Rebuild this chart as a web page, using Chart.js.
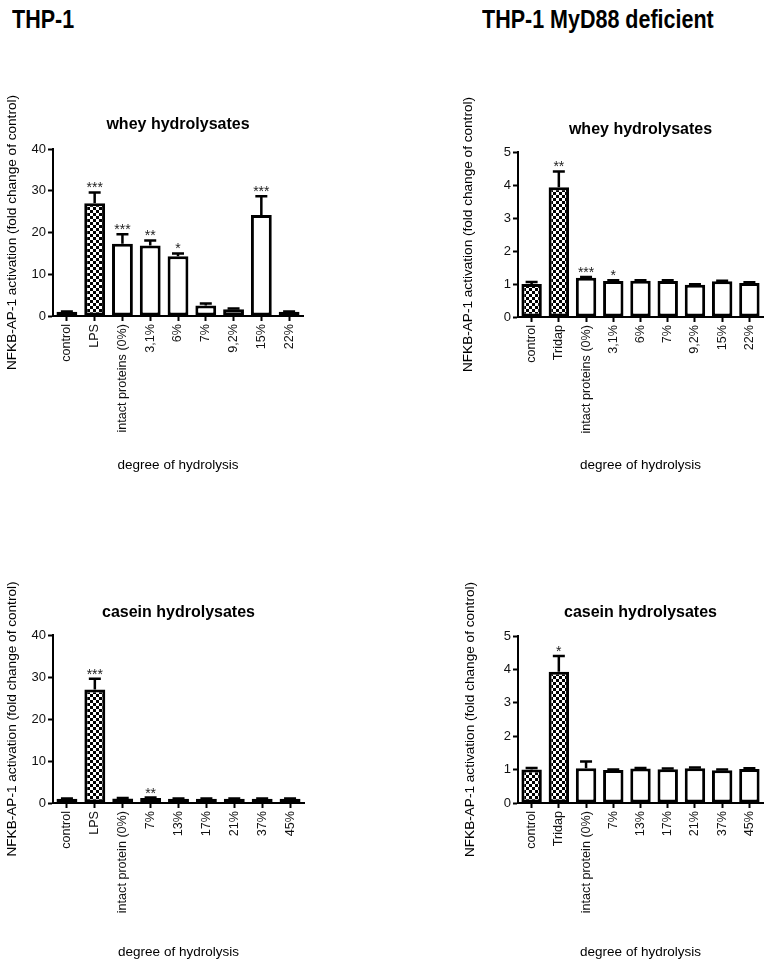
<!DOCTYPE html>
<html>
<head>
<meta charset="utf-8">
<script src="https://cdn.jsdelivr.net/npm/chart.js@4.4.0/dist/chart.umd.min.js"></script>
<style>
  body { margin: 0; background: #fff; width: 771px; height: 960px; position: relative; overflow: hidden; }
  .head { position: absolute; font-family: 'Liberation Sans', Arial, sans-serif;
          font-weight: bold; font-size: 25px; line-height: 1; color: #000; white-space: nowrap;
          transform: scaleX(0.86); transform-origin: left top; }
  canvas { position: absolute; }
</style>
</head>
<body>
<div class="head" style="left:12px; top:7px;">THP-1</div>
<div class="head" style="left:482px; top:7px;">THP-1 MyD88 deficient</div>
<canvas id="tl"></canvas>
<canvas id="tr"></canvas>
<canvas id="bl"></canvas>
<canvas id="br"></canvas>
<script>
'use strict';

// --- data ---
const wheyLabelsThp1 = ['control', 'LPS', 'intact proteins (0%)', '3,1%', '6%', '7%', '9,2%', '15%', '22%'];
const wheyMeansThp1 = [1.0, 27.0, 17.3, 16.9, 14.3, 2.5, 1.6, 24.2, 1.0];
const wheyErrThp1 = [0.1, 2.6, 2.3, 1.2, 0.7, 0.5, 0.2, 4.5, 0.1];
const wheyStarsThp1 = ['', '***', '***', '**', '*', '', '', '***', ''];

const wheyLabelsMyd = ['control', 'Tridap', 'intact proteins (0%)', '3,1%', '6%', '7%', '9,2%', '15%', '22%'];
const wheyMeansMyd = [1.0, 3.93, 1.19, 1.09, 1.10, 1.09, 0.98, 1.08, 1.03];
const wheyErrMyd = [0.06, 0.48, 0.02, 0.02, 0.01, 0.02, 0.01, 0.02, 0.02];
const wheyStarsMyd = ['', '**', '***', '*', '', '', '', '', ''];

const caseinLabelsThp1 = ['control', 'LPS', 'intact protein (0%)', '7%', '13%', '17%', '21%', '37%', '45%'];
const caseinMeansThp1 = [1.0, 27.0, 1.1, 1.2, 1.0, 1.0, 1.0, 1.0, 1.0];
const caseinErrThp1 = [0.1, 2.6, 0.1, 0.1, 0.05, 0.05, 0.05, 0.1, 0.05];
const caseinStarsThp1 = ['', '***', '', '**', '', '', '', '', ''];

const caseinLabelsMyd = ['control', 'Tridap', 'intact protein (0%)', '7%', '13%', '17%', '21%', '37%', '45%'];
const caseinMeansMyd = [1.0, 3.93, 1.04, 0.99, 1.03, 1.01, 1.04, 0.98, 1.02];
const caseinErrMyd = [0.05, 0.47, 0.2, 0.01, 0.02, 0.02, 0.02, 0.02, 0.02];
const caseinStarsMyd = ['', '*', '', '', '', '', '', '', ''];

const FONT = "'Liberation Sans', Arial, sans-serif";
const Y_TITLE = 'NFKB-AP-1 activation (fold change of control)';

// checkered fill for control / stimulus bars
function checker(ctx) {
  const p = document.createElement('canvas');
  p.width = 6; p.height = 6;
  const g = p.getContext('2d');
  g.fillStyle = '#fff'; g.fillRect(0, 0, 6, 6);
  g.fillStyle = '#000'; g.fillRect(0, 0, 3, 3); g.fillRect(3, 3, 3, 3);
  return ctx.createPattern(p, 'repeat');
}

// upper error bars + significance stars
const errorBars = {
  id: 'errorBars',
  afterDatasetsDraw(chart, args, opts) {
    const { ctx } = chart;
    const y = chart.scales.y;
    const meta = chart.getDatasetMeta(0);
    ctx.save();
    ctx.strokeStyle = '#000';
    ctx.lineWidth = 2.5;
    ctx.fillStyle = '#222';
    ctx.font = '14px ' + FONT;
    ctx.textAlign = 'center';
    ctx.textBaseline = 'alphabetic';
    opts.means.forEach((m, i) => {
      const cx = meta.data[i].x;
      const top = y.getPixelForValue(m);
      const hi = y.getPixelForValue(m + opts.errors[i]);
      ctx.beginPath();
      ctx.moveTo(cx, top); ctx.lineTo(cx, hi);
      ctx.moveTo(cx - 6, hi); ctx.lineTo(cx + 6, hi);
      ctx.stroke();
      if (opts.stars[i]) ctx.fillText(opts.stars[i], cx, hi);
    });
    ctx.restore();
  }
};

// rotated y title (drawn by hand so it is not squeezed to the axis height)
const yTitle = {
  id: 'yTitle',
  afterDraw(chart, args, opts) {
    const { ctx, chartArea } = chart;
    ctx.save();
    ctx.translate(chart.scales.y.left + 8, (chartArea.top + chartArea.bottom) / 2);
    ctx.rotate(-Math.PI / 2);
    ctx.font = '13.6px ' + FONT;
    ctx.fillStyle = '#000';
    ctx.textAlign = 'center';
    ctx.textBaseline = 'middle';
    ctx.fillText(opts.text, 0, 0);
    ctx.restore();
  }
};

function makePanel(p) {
  const canvas = document.getElementById(p.id);
  const padLeft = p.yTitleX - p.x - 8;
  const yWidth = p.area.l - p.x - padLeft;
  const padRight = p.x + p.w - p.area.r;
  const xHeight = p.xTitleY + 8 - p.area.b;
  const h = p.xTitleY + 8 - p.y;
  canvas.width = p.w; canvas.height = h;
  canvas.style.left = p.x + 'px'; canvas.style.top = p.y + 'px';
  const ctx = canvas.getContext('2d');
  const pat = checker(ctx);

  return new Chart(canvas, {
    type: 'bar',
    data: {
      labels: p.labels,
      datasets: [{
        data: p.means,
        backgroundColor: p.means.map((v, i) => (i < 2 ? pat : '#fff')),
        borderColor: '#000',
        borderWidth: 3,
        borderSkipped: false,
        barPercentage: 0.75,
        categoryPercentage: 1,
      }],
    },
    options: {
      responsive: false,
      animation: false,
      layout: { padding: { left: padLeft, right: padRight, top: 0, bottom: 0 } },
      plugins: {
        legend: { display: false },
        tooltip: { enabled: false },
        title: {
          display: true,
          text: p.title,
          fullSize: false,
          color: '#000',
          font: { size: 16, weight: 'bold', family: FONT, lineHeight: 1.2 },
          padding: { top: p.titleY - p.y - 9.6, bottom: p.area.t - p.titleY - 9.6 },
        },
        errorBars: { means: p.means, errors: p.errors, stars: p.stars },
        yTitle: { text: Y_TITLE },
      },
      scales: {
        x: {
          grid: { drawOnChartArea: false, drawTicks: true, tickLength: 5, tickWidth: 2, color: '#000', offset: false },
          border: { display: true, color: '#000', width: 2 },
          ticks: {
            autoSkip: false, minRotation: 90, maxRotation: 90, padding: 3,
            color: '#111', font: { size: 12.6, family: FONT },
          },
          title: {
            display: true, text: 'degree of hydrolysis', color: '#000', padding: 0,
            font: { size: 13.5, family: FONT, lineHeight: 1.2 },
          },
          afterFit: (s) => { s.height = xHeight; },
        },
        y: {
          min: 0,
          max: p.yMax,
          ticks: { stepSize: p.yStep, padding: 2, color: '#111', font: { size: 13, family: FONT } },
          grid: { drawOnChartArea: false, drawTicks: true, tickLength: 5, tickWidth: 2, color: '#000' },
          border: { display: true, color: '#000', width: 2 },
          afterFit: (s) => { s.width = yWidth; },
        },
      },
    },
    plugins: [errorBars, yTitle],
  });
}

makePanel({
  id: 'tl', x: 0, y: 90, w: 385, area: { l: 53, r: 303, t: 149, b: 316 },
  yTitleX: 12, titleY: 125, xTitleY: 465, title: 'whey hydrolysates',
  labels: wheyLabelsThp1, means: wheyMeansThp1, errors: wheyErrThp1, stars: wheyStarsThp1,
  yMax: 40, yStep: 10,
});
makePanel({
  id: 'tr', x: 385, y: 90, w: 386, area: { l: 518, r: 763, t: 152, b: 317 },
  yTitleX: 468, titleY: 130, xTitleY: 465, title: 'whey hydrolysates',
  labels: wheyLabelsMyd, means: wheyMeansMyd, errors: wheyErrMyd, stars: wheyStarsMyd,
  yMax: 5, yStep: 1,
});
makePanel({
  id: 'bl', x: 0, y: 580, w: 385, area: { l: 53, r: 304, t: 635, b: 803 },
  yTitleX: 12, titleY: 613, xTitleY: 952, title: 'casein hydrolysates',
  labels: caseinLabelsThp1, means: caseinMeansThp1, errors: caseinErrThp1, stars: caseinStarsThp1,
  yMax: 40, yStep: 10,
});
makePanel({
  id: 'br', x: 385, y: 580, w: 386, area: { l: 518, r: 763, t: 636, b: 803 },
  yTitleX: 470, titleY: 613, xTitleY: 952, title: 'casein hydrolysates',
  labels: caseinLabelsMyd, means: caseinMeansMyd, errors: caseinErrMyd, stars: caseinStarsMyd,
  yMax: 5, yStep: 1,
});
</script>
</body>
</html>
